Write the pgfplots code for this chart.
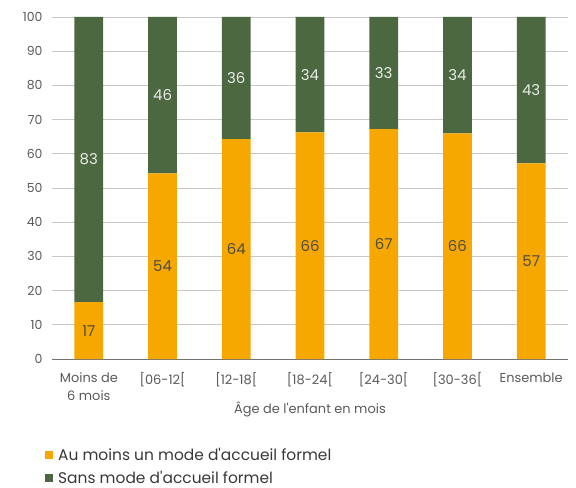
\documentclass[border=0pt]{standalone}
\usepackage{fontspec}
\setmainfont{Poppins}
\usepackage{pgfplots}
\pgfplotsset{compat=1.18}
\definecolor{orangeA}{HTML}{F6A800}
\definecolor{greenA}{HTML}{4B6840}
\definecolor{txt}{HTML}{595959}
\definecolor{gridc}{HTML}{C8C8C8}

\pgfplotsset{
  base/.style={
    scale only axis, width=516bp, height=342bp,
    xmin=-0.5, xmax=6.5, ymin=0, ymax=100,
  }
}

\begin{document}
\begin{tikzpicture}
\path[use as bounding box] (-52bp,-129bp) rectangle (524bp,359bp);
\begin{axis}[
    base,
    ybar stacked,
    bar width=0.39,
    axis lines*=left,
    y axis line style={draw=none},
    x axis line style={draw=black!55, line width=0.8bp},
    major tick length=0,
    ymajorgrids,
    grid style={gridc, line width=0.8bp},
    ytick={0,10,...,100},
    xtick={0,...,6},
    xticklabels={{Moins de\\6 mois},{[06-12[},{[12-18[},{[18-24[},{[24-30[},{[30-36[},{Ensemble}},
    /pgf/number format/assume math mode=true,
    tick label style={font=\fontsize{12.5}{18}\selectfont, text=txt},
    xticklabel style={align=center, yshift=-10bp, font=\fontsize{13}{18}\selectfont},
    yticklabel style={xshift=-6bp},
    xlabel={Âge de l\textquotesingle enfant en mois},
    xlabel style={font=\fontsize{13}{15}\selectfont, text=txt, at={(axis description cs:0.5,0)}, anchor=center, yshift=-50bp},
    legend style={at={(axis description cs:-0.0136,-0.255)}, anchor=north west, draw=none, fill=none,
      font=\fontsize{15.5}{17}\selectfont, text=black!78, row sep=5bp, inner sep=0pt},
    legend cell align=left,
    legend image code/.code={\fill[#1] (0bp,-4bp) rectangle (8bp,4bp); \path (11bp,0bp);},
]
\addplot[fill=orangeA, draw=none] coordinates {
    (0,16.6) (1,54.3) (2,64.3) (3,66.3) (4,67.2) (5,66.0) (6,57.2)
};
\addplot[fill=greenA, draw=none] coordinates {
    (0,83.4) (1,45.7) (2,35.7) (3,33.7) (4,32.8) (5,34.0) (6,42.8)
};
\legend{Au moins un mode d\textquotesingle accueil formel, Sans mode d\textquotesingle accueil formel}
\end{axis}
\begin{axis}[base, hide axis]
\addplot[draw=none, mark=none, nodes near coords, point meta=explicit symbolic,
  every node near coord/.style={anchor=center, text=black!70, font=\fontsize{15}{17}\selectfont}]
  coordinates {
    (0,8.3) [17] (1,27.15) [54] (2,32.15) [64] (3,33.15) [66] (4,33.6) [67] (5,33.0) [66] (6,28.6) [57]
};
\addplot[draw=none, mark=none, nodes near coords, point meta=explicit symbolic,
  every node near coord/.style={anchor=center, text=white!92!black, font=\fontsize{15}{17}\selectfont}]
  coordinates {
    (0,58.3) [83] (1,77.15) [46] (2,82.15) [36] (3,83.15) [34] (4,83.6) [33] (5,83.0) [34] (6,78.6) [43]
};
\end{axis}
\end{tikzpicture}
\end{document}
